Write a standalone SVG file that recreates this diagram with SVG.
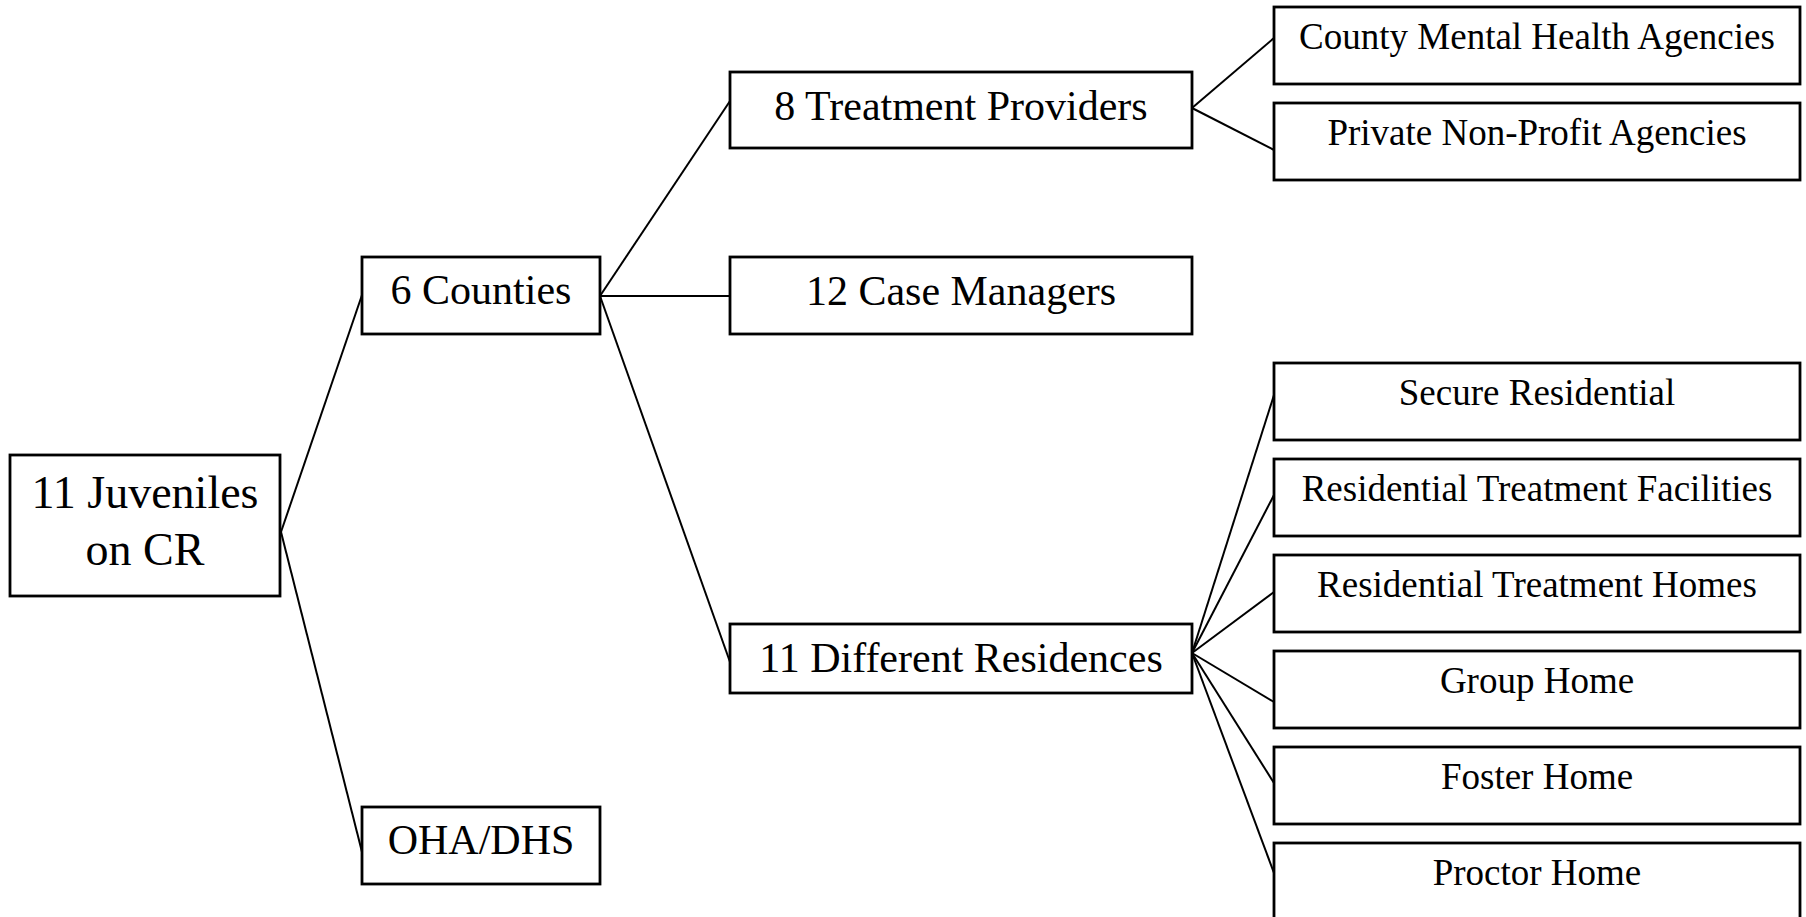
<svg xmlns="http://www.w3.org/2000/svg" width="1806" height="917" viewBox="0 0 1806 917">
<style>
.box{fill:#fff;stroke:#000;stroke-width:2.8}
.ln{stroke:#000;stroke-width:2;fill:none}
text{font-family:"Liberation Serif","Times New Roman",serif;fill:#000;text-anchor:middle}
.t1{font-size:46px}
.t2{font-size:42px}
.t3{font-size:37px}
</style>
<rect width="1806" height="917" fill="#fff"/>
<g id="connectors">
<line class="ln" x1="281" y1="532" x2="362" y2="295"/>
<line class="ln" x1="281" y1="532" x2="362" y2="852"/>
<line class="ln" x1="600" y1="296" x2="730" y2="101"/>
<line class="ln" x1="600" y1="296" x2="730" y2="296"/>
<line class="ln" x1="600" y1="296" x2="730" y2="662"/>
<line class="ln" x1="1192" y1="108" x2="1274" y2="38"/>
<line class="ln" x1="1192" y1="108" x2="1274" y2="150"/>
<line class="ln" x1="1192" y1="653" x2="1274" y2="395"/>
<line class="ln" x1="1192" y1="653" x2="1274" y2="495"/>
<line class="ln" x1="1192" y1="653" x2="1274" y2="592"/>
<line class="ln" x1="1192" y1="653" x2="1274" y2="702"/>
<line class="ln" x1="1192" y1="653" x2="1274" y2="783"/>
<line class="ln" x1="1192" y1="653" x2="1274" y2="873"/>
</g>
<g id="juveniles"><rect class="box" x="10" y="455" width="270" height="141"/><text class="t1" x="145" y="508">11 Juveniles</text><text class="t1" x="145" y="565">on CR</text></g>
<g id="counties"><rect class="box" x="362" y="257" width="238" height="77"/><text class="t2" x="481" y="304">6 Counties</text></g>
<g id="ohadhs"><rect class="box" x="362" y="807" width="238" height="77"/><text class="t2" x="481" y="854">OHA/DHS</text></g>
<g id="providers"><rect class="box" x="730" y="72" width="462" height="76"/><text class="t2" x="961" y="120">8 Treatment Providers</text></g>
<g id="casemanagers"><rect class="box" x="730" y="257" width="462" height="77"/><text class="t2" x="961" y="305">12 Case Managers</text></g>
<g id="residences"><rect class="box" x="730" y="624" width="462" height="69"/><text class="t2" x="961" y="672">11 Different Residences</text></g>
<g id="countymh"><rect class="box" x="1274" y="7" width="526" height="77"/><text class="t3" x="1537" y="49">County Mental Health Agencies</text></g>
<g id="privatenp"><rect class="box" x="1274" y="103" width="526" height="77"/><text class="t3" x="1537" y="145">Private Non-Profit Agencies</text></g>
<g id="secure"><rect class="box" x="1274" y="363" width="526" height="77"/><text class="t3" x="1537" y="405">Secure Residential</text></g>
<g id="rtf"><rect class="box" x="1274" y="459" width="526" height="77"/><text class="t3" x="1537" y="501">Residential Treatment Facilities</text></g>
<g id="rth"><rect class="box" x="1274" y="555" width="526" height="77"/><text class="t3" x="1537" y="597">Residential Treatment Homes</text></g>
<g id="group"><rect class="box" x="1274" y="651" width="526" height="77"/><text class="t3" x="1537" y="693">Group Home</text></g>
<g id="foster"><rect class="box" x="1274" y="747" width="526" height="77"/><text class="t3" x="1537" y="789">Foster Home</text></g>
<g id="proctor"><rect class="box" x="1274" y="843" width="526" height="90"/><text class="t3" x="1537" y="885">Proctor Home</text></g>
</svg>
